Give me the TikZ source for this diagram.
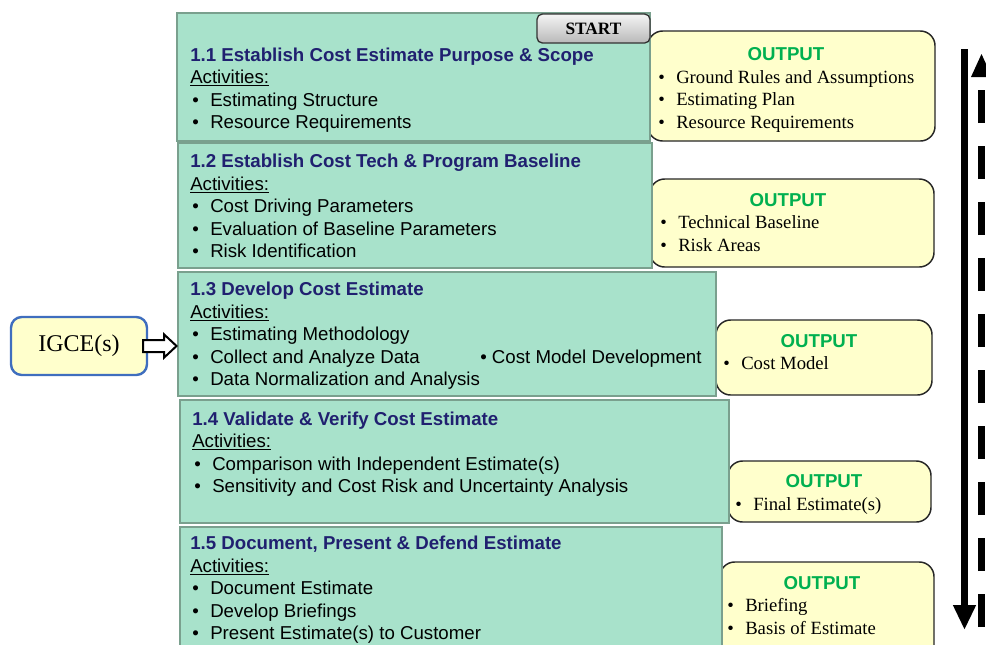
\documentclass[tikz,border=0pt]{standalone}
\usepackage{fontspec}
\setmainfont{Liberation Serif}
\setsansfont{Liberation Sans}
\usetikzlibrary{calc,fit,arrows.meta}

\definecolor{stepfill}{RGB}{168,226,203}
\definecolor{stepline}{RGB}{122,160,142}
\definecolor{outfill}{RGB}{255,255,204}
\definecolor{titleblue}{RGB}{32,32,112}
\definecolor{outgreen}{RGB}{0,176,80}
\definecolor{igceblue}{RGB}{63,110,190}

\newcommand{\actitem}[1]{\makebox[15pt][l]{\hspace{1.5pt}\textbullet}#1}
\newcommand{\outitem}[1]{\makebox[13.5pt][l]{\textbullet}#1}

\begin{document}
\begin{tikzpicture}[x=0.75pt,y=-0.75pt,
    stepbox/.style={draw=stepline, line width=2.2pt, fill=stepfill, inner sep=0pt},
    outbox/.style={draw=black!85, line width=1.1pt, fill=outfill, rounded corners=11pt, inner sep=0pt},
    steptext/.style={anchor=base west, align=left, inner sep=0pt, font=\sffamily\fontsize{14}{16.8}\selectfont},
    outhead/.style={anchor=base, inner sep=0pt, text=outgreen, font=\sffamily\bfseries\fontsize{14}{16.8}\selectfont},
    outtext/.style={anchor=base west, align=left, inner sep=0pt, font=\fontsize{14}{16.9}\selectfont}]
    \useasboundingbox (0,0) rectangle (986,644);
    \clip (0,0) rectangle (986,644);
    % output boxes
    \node[outbox, fit={(648,31) (935,141)}] (o1) {};
    \node[outbox, fit={(650,179) (934,267)}] (o2) {};
    \node[outbox, fit={(716,320) (932,395)}] (o3) {};
    \node[outbox, fit={(728,461) (931,522)}] (o4) {};
    \node[outbox, fit={(720,562) (934,660)}] (o5) {};
    % step boxes
    \node[stepbox, fit={(177,13) (650,141)}] (s1) {};
    \node[stepbox, fit={(178,143) (652,268)}] (s2) {};
    \node[stepbox, fit={(178,272) (716,396)}] (s3) {};
    \node[stepbox, fit={(180,400) (729,523)}] (s4) {};
    \node[stepbox, fit={(180,527) (722,660)}] (s5) {};
    \node[draw=black!80, line width=1pt, rounded corners=4pt, top color=gray!8, bottom color=gray!55,
        inner sep=0pt, fit={(537,14) (650,43)}] (start) {};
    \node[font=\bfseries\fontsize{13}{15}\selectfont] (starttext) at (start.center) {START};
    % input
    \node[draw=igceblue, line width=1.8pt, fill=outfill, rounded corners=8pt, inner sep=0pt,
        fit={(11,317) (147,375)}] (igce) {};
    \node[font=\fontsize{18}{20}\selectfont] (igcetext) at (igce.center) {IGCE(s)};
    \draw[line width=1.5pt, fill=white, line join=miter]
        ($(igce.east)+(-5,-6)$) -- ($(igce.east)+(16,-6)$) -- ($(igce.east)+(16,-11.5)$)
        -- (s3.west |- igce.east) -- ($(igce.east)+(16,11.5)$) -- ($(igce.east)+(16,6)$)
        -- ($(igce.east)+(-5,6)$) -- cycle;
    % step texts (anchored at the last line)
    \node[steptext] (s1text) at (190,128.5) {\textcolor{titleblue}{\bfseries 1.1 Establish Cost Estimate Purpose \& Scope}\\
        \underline{Activities:}\\ \actitem{Estimating Structure}\\ \actitem{Resource Requirements}};
    \node[steptext] (s2text) at (190,257.5) {\textcolor{titleblue}{\bfseries 1.2 Establish Cost Tech \& Program Baseline}\\
        \underline{Activities:}\\ \actitem{Cost Driving Parameters}\\ \actitem{Evaluation of Baseline Parameters}\\ \actitem{Risk Identification}};
    \node[steptext] (s3text) at (190,385.5) {\textcolor{titleblue}{\bfseries 1.3 Develop Cost Estimate}\\
        \underline{Activities:}\\ \actitem{Estimating Methodology}\\ \actitem{Collect and Analyze Data}\\ \actitem{Data Normalization and Analysis}};
    \node[steptext] (s3extra) at (480,363) {\textbullet{} Cost Model Development};
    \node[steptext] (s4text) at (192,492.5) {\textcolor{titleblue}{\bfseries 1.4 Validate \& Verify Cost Estimate}\\
        \underline{Activities:}\\ \actitem{Comparison with Independent Estimate(s)}\\ \actitem{Sensitivity and Cost Risk and Uncertainty Analysis}};
    \node[steptext] (s5text) at (190,639.5) {\textcolor{titleblue}{\bfseries 1.5 Document, Present \& Defend Estimate}\\
        \underline{Activities:}\\ \actitem{Document Estimate}\\ \actitem{Develop Briefings}\\ \actitem{Present Estimate(s) to Customer}};
    % output texts
    \node[outhead] (o1head) at (786,60.5) {OUTPUT};
    \node[outtext] (o1text) at (658,128.5) {\outitem{Ground Rules and Assumptions}\\ \outitem{Estimating Plan}\\ \outitem{Resource Requirements}};
    \node[outhead] (o2head) at (788,206.5) {OUTPUT};
    \node[outtext] (o2text) at (660,251.5) {\outitem{Technical Baseline}\\ \outitem{Risk Areas}};
    \node[outhead] (o3head) at (819,347.5) {OUTPUT};
    \node[outtext] (o3text) at (723,369.5) {\outitem{Cost Model}};
    \node[outhead] (o4head) at (824,487.5) {OUTPUT};
    \node[outtext] (o4text) at (735,510.5) {\outitem{Final Estimate(s)}};
    \node[outhead] (o5head) at (822,589.5) {OUTPUT};
    \node[outtext] (o5text) at (727,634.5) {\outitem{Briefing}\\ \outitem{Basis of Estimate}};
    % flow arrows
    \coordinate (downtop) at (964.5,49);
    \coordinate (downtip) at (964.5,630);
    \coordinate (upbottom) at (981.5,627);
    \coordinate (upend) at (981.5,88);
    \coordinate (uptip) at (981.5,54);
    \draw[line width=5.5pt, -{Triangle[length=18.75pt, width=16pt]}] (downtop) -- (downtip);
    \draw[line width=5.5pt, dash pattern=on 24.75pt off 17.25pt] (upbottom) -- (upend);
    \fill ($(uptip)+(-10.5,23)$) -- (uptip) -- ($(uptip)+(10.5,23)$) -- cycle;
\end{tikzpicture}
\end{document}
